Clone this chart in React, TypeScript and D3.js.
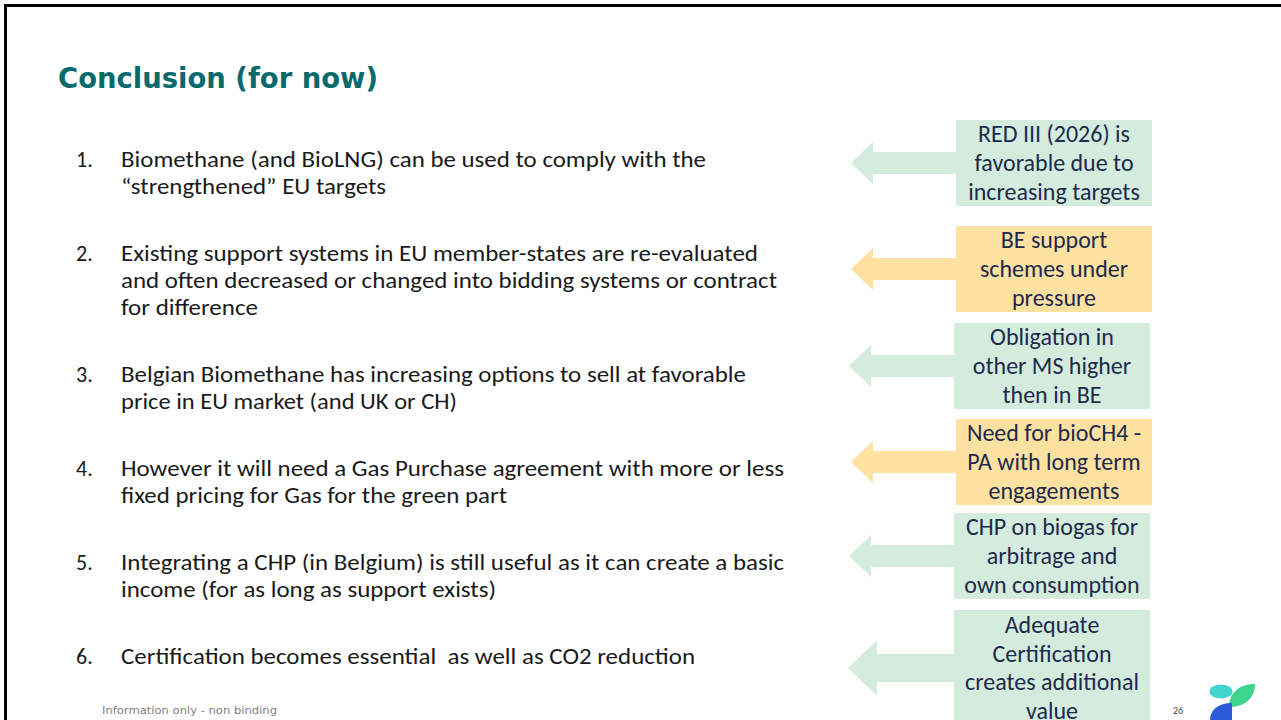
import React from "react";
import * as d3 from "d3";

const title = "Conclusion (for now)";
const footer = "Information only - non binding";
const pageNumber = "26";

const itemNumbers = ["1.", "2.", "3.", "4.", "5.", "6."];
const itemLines: string[][] = [
  ["Biomethane (and BioLNG) can be used to comply with the", "\u201cstrengthened\u201d EU targets"],
  [
    "Existing support systems in EU member-states are re-evaluated",
    "and often decreased or changed into bidding systems or contract",
    "for difference",
  ],
  ["Belgian Biomethane has increasing options to sell at favorable", "price in EU market (and UK or CH)"],
  ["However it will need a Gas Purchase agreement with more or less", "fixed pricing for Gas for the green part"],
  ["Integrating a CHP (in Belgium) is still useful as it can create a basic", "income (for as long as support exists)"],
  ["Certification becomes essential  as well as CO2 reduction"],
];
// measured widths of the body lines in the reference (for matching the Calibri metrics)
const itemLineWidths: number[][] = [
  [585, 265],
  [637, 656, 137],
  [625, 336],
  [663, 386],
  [663, 375],
  [574],
];

const boxLines: string[][] = [
  ["RED III (2026) is", "favorable due to", "increasing targets"],
  ["BE support", "schemes under", "pressure"],
  ["Obligation in", "other MS higher", "then in BE"],
  ["Need for bioCH4 -", "PA with long term", "engagements"],
  ["CHP on biogas for", "arbitrage and", "own consumption"],
  ["Adequate", "Certification", "creates additional", "value"],
];
const boxKinds = ["green", "orange", "green", "orange", "green", "green"];

// layout
const W = 1281;
const H = 720;
const boxTops = [120, 226, 323, 419, 513, 610];
const boxLefts = [956, 956, 954, 956, 954, 954];
const boxWidth = 196;
const boxLineStep = 28.8;
const colors: Record<string, string> = { green: "#d3ecde", orange: "#fde1a1" };
const textColor = "#1e2a4c";
const bodyFont = "Carlito, Calibri, 'Open Sans', sans-serif";
const titleFont = "'Century Gothic', 'DejaVu Sans', sans-serif";

export default function App() {
  // vertical positions of the body lines (centre lines)
  const lineStep = 27;
  const paraGap = 40;
  const itemY: number[][] = [];
  let y = 159;
  itemLines.forEach((lines) => {
    const ys = lines.map((_, i) => y + i * lineStep);
    itemY.push(ys);
    y = ys[ys.length - 1] + lineStep + paraGap;
  });

  const line = d3
    .line<[number, number]>()
    .x((d) => d[0])
    .y((d) => d[1]);

  return (
    <svg
      width={W}
      height={H}
      style={{ position: "absolute", left: 0, top: 0, display: "block", background: "#fff" }}
    >
      <rect x={0} y={0} width={W} height={H} fill="#fff" />
      {/* frame */}
      <path d={`M5.5,${H} L5.5,5.5 L${W},5.5`} fill="none" stroke="#000" strokeWidth={3} />

      {/* title */}
      <text
        x={58}
        y={88}
        fontFamily={titleFont}
        fontWeight="bold"
        fontSize={29}
        fill="#086a6c"
        textLength={320}
        lengthAdjust="spacingAndGlyphs"
      >
        {title}
      </text>

      {/* numbered list */}
      {itemLines.map((lines, i) => (
        <g key={i}>
          <text x={76} y={itemY[i][0] + 7.5} fontFamily={bodyFont} fontSize={22} fill="#1a1a1a">
            {itemNumbers[i]}
          </text>
          {lines.map((t, j) => (
            <text
              key={j}
              x={121}
              y={itemY[i][j] + 7.5}
              fontFamily={bodyFont}
              fontSize={22}
              fill="#1a1a1a"
              textLength={itemLineWidths[i][j]}
              lengthAdjust="spacingAndGlyphs"
              style={{ whiteSpace: "pre" }}
            >
              {t}
            </text>
          ))}
        </g>
      ))}

      {/* boxes with arrows */}
      {boxLines.map((lines, i) => {
        const n = lines.length;
        const h = n === 3 ? 86 : 116;
        const top = boxTops[i];
        const left = boxLefts[i];
        const cy = top + h / 2;
        const big = n > 3;
        const headHalf = big ? 27.5 : 21;
        const shaftHalf = big ? 14 : 11;
        const tip = left - (big ? 106 : 105);
        const headBase = tip + (big ? 29 : 22);
        const pts: [number, number][] = [
          [tip, cy],
          [headBase, cy - headHalf],
          [headBase, cy - shaftHalf],
          [left, cy - shaftHalf],
          [left, cy + shaftHalf],
          [headBase, cy + shaftHalf],
          [headBase, cy + headHalf],
          [tip, cy],
        ];
        const fill = colors[boxKinds[i]];
        const cx = left + boxWidth / 2;
        return (
          <g key={i}>
            <path d={line(pts) || ""} fill={fill} />
            <rect x={left} y={top} width={boxWidth} height={h} fill={fill} />
            {lines.map((t, j) => (
              <text
                key={j}
                x={cx}
                y={cy + (j - (n - 1) / 2) * boxLineStep + 8}
                textAnchor="middle"
                fontFamily={bodyFont}
                fontSize={24}
                fill={textColor}
              >
                {t}
              </text>
            ))}
          </g>
        );
      })}

      {/* footer */}
      <text
        x={102}
        y={714}
        fontFamily={titleFont}
        fontSize={11}
        fill="#7f7f7f"
        textLength={175}
        lengthAdjust="spacingAndGlyphs"
      >
        {footer}
      </text>
      <text x={1173} y={714} fontFamily={bodyFont} fontSize={10} fill="#404a60">
        {pageNumber}
      </text>

      {/* logo */}
      <g>
        <ellipse cx={1221} cy={691.5} rx={11.5} ry={7} fill="#3fd5cf" />
        <path d="M1229,707 C1229,694 1238,684 1255,684 C1255,697 1246,707 1229,707 Z" fill="#3dd58b" />
        <path d="M1232,703 L1232,720 L1210,720 C1210,710 1218,703 1232,703 Z" fill="#2c5ad8" />
      </g>
    </svg>
  );
}
